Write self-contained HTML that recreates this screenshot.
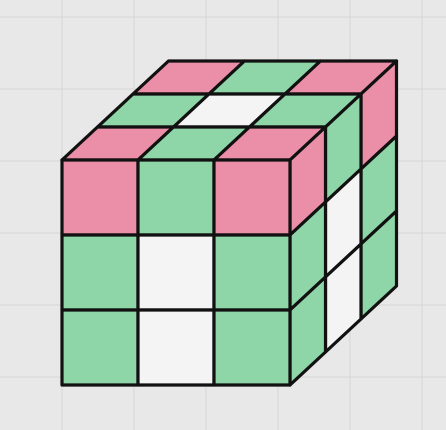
<!DOCTYPE html>
<html><head><meta charset="utf-8"><style>
html,body{margin:0;padding:0;background:#e8e8e8;width:446px;height:430px;overflow:hidden}
svg{display:block}
</style></head><body>
<svg id="s" width="446" height="430" viewBox="0 0 446 430">
<rect width="446" height="430" fill="#e8e8e8"/>
<g id="grid" stroke="#d6d6d6" stroke-width="1"></g>
<g id="cube"></g>
</svg>
<script>
const topColors=[["p","g","p"],["g","w","g"],["p","g","p"]]; // rows k=0 front .. back, cols i
const frontColors=[["p","g","p"],["g","w","g"],["g","w","g"]]; // rows j, cols i
const rightColors=[["p","g","p"],["g","w","g"],["g","w","g"]]; // rows j, cols k
const fill={p:"#ea8fa7",g:"#8ed6a8",w:"#f4f4f4"};
const NS="http://www.w3.org/2000/svg";
const grid=document.getElementById('grid'),cube=document.getElementById('cube');
for(let x=62;x<446;x+=72){const l=document.createElementNS(NS,'line');l.setAttribute('x1',x);l.setAttribute('x2',x);l.setAttribute('y1',0);l.setAttribute('y2',430);


grid.appendChild(l);}
for(let y=17;y<430;y+=72){const l=document.createElementNS(NS,'line');l.setAttribute('y1',y);l.setAttribute('y2',y);l.setAttribute('x1',0);l.setAttribute('x2',446);


grid.appendChild(l);}
const X0=62,Y0=160,W=76,H=75,DX=35.5,DY=-33;
function poly(pts,c,name){const p=document.createElementNS(NS,'polygon');p.setAttribute('points',pts.map(q=>q.join(',')).join(' '));
p.setAttribute('fill',fill[c]);p.setAttribute('stroke','#111');p.setAttribute('stroke-width','3.2');p.setAttribute('stroke-linejoin','round');


cube.appendChild(p);}
// top face
for(let k=2;k>=0;k--)for(let i=0;i<3;i++){const x=X0+W*i+DX*k,y=Y0+DY*k;
poly([[x,y],[x+W,y],[x+W+DX,y+DY],[x+DX,y+DY]],topColors[k][i],'top-sticker');}
// right face
for(let k=2;k>=0;k--)for(let j=0;j<3;j++){const x=X0+3*W+DX*k,y=Y0+H*j+DY*k;
poly([[x,y],[x+DX,y+DY],[x+DX,y+DY+H],[x,y+H]],rightColors[j][k],'right-sticker');}
// front face
for(let j=0;j<3;j++)for(let i=0;i<3;i++){const x=X0+W*i,y=Y0+H*j;
poly([[x,y],[x+W,y],[x+W,y+H],[x,y+H]],frontColors[j][i],'front-sticker');}
</script>
</body></html>
